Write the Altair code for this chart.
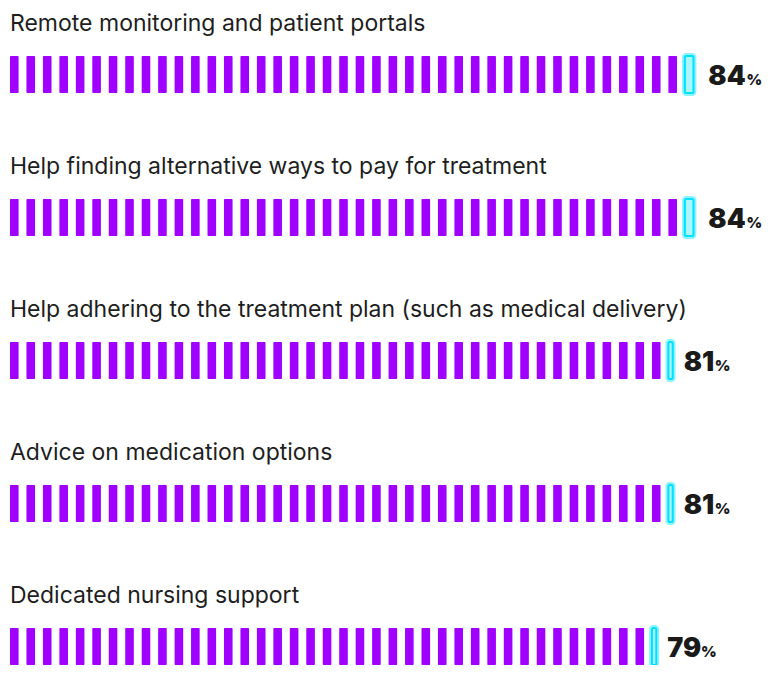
import math
import altair as alt
import pandas as pd

# ---- data ----
categories = [
    "Remote monitoring and patient portals",
    "Help finding alternative ways to pay for treatment",
    "Help adhering to the treatment plan (such as medical delivery)",
    "Advice on medication options",
    "Dedicated nursing support",
]
values = [84, 84, 81, 81, 79]
rows = list(range(len(categories)))

ROW_PX = 143.0            # pixels between rows
STEP = 2                  # one segment = 2 percentage points
W = 1.045                 # drawn width of one segment, in percentage units
H = 18.5 / ROW_PX         # half bar height, in row units

seg_records = []
for r, v in zip(rows, values):
    segs = v / STEP
    last = math.ceil(segs) - 1
    for i in range(last):
        seg_records.append({"row": r, "x": i * STEP, "x2": i * STEP + W,
                            "y": r - H, "y2": r + H})
    frac = segs - last
    cyan_last = {"row": r, "x": last * STEP, "x2": last * STEP + W * frac,
                 "y": r - H, "y2": r + H}
    seg_records.append(dict(cyan_last, kind="cyan"))
segs_df = pd.DataFrame(seg_records)
purple_df = segs_df[segs_df["kind"].isna()]
cyan_df = segs_df[segs_df["kind"] == "cyan"].copy()
cyan_df["gx"] = cyan_df["x"] - 0.35
cyan_df["gx2"] = cyan_df["x2"] + 0.35
cyan_df["gy"] = cyan_df["y"] - 3 / ROW_PX
cyan_df["gy2"] = cyan_df["y2"] + 3 / ROW_PX

PX = 8.23                 # pixels per percentage point
NUM_SIZE = 27
PCT_SIZE = 15
NUM_GAP = 7               # px between bar end and number
# approximate advance widths (em) of the heavy digits, used to place the "%"
DIGIT_EM = {"0": 0.68, "1": 0.44, "2": 0.64, "3": 0.66, "4": 0.70,
            "5": 0.66, "6": 0.68, "7": 0.58, "8": 0.68, "9": 0.64}

labels_df = pd.DataFrame({
    "row": rows,
    "label": categories,
    "value": values,
    "num": [str(v) for v in values],
})
labels_df["ly"] = labels_df["row"] - 43.5 / ROW_PX
labels_df["ny"] = labels_df["row"] + 10.5 / ROW_PX
labels_df["x0"] = 0
labels_df["px"] = [
    v + (NUM_GAP + sum(DIGIT_EM[c] for c in str(v)) * NUM_SIZE + 1) / PX
    for v in values
]

CW, CH = 756, 657
xs = alt.Scale(domain=[-2 / PX, (CW - 2) / PX], nice=False, zero=False)
y0 = -66.5 / ROW_PX
ys = alt.Scale(domain=[y0, y0 + CH / ROW_PX], nice=False, zero=False, reverse=True)

base_x = dict(axis=None, scale=xs)
base_y = dict(axis=None, scale=ys)

purple = alt.Chart(purple_df).mark_rect(color="#a000ff", cornerRadius=1).encode(
    x=alt.X("x:Q", **base_x), x2="x2:Q",
    y=alt.Y("y:Q", **base_y), y2="y2:Q",
)

glow = alt.Chart(cyan_df).mark_rect(color="#00e5ff", opacity=0.45, cornerRadius=4).encode(
    x=alt.X("gx:Q", **base_x), x2="gx2:Q",
    y=alt.Y("gy:Q", **base_y), y2="gy2:Q",
)

cyan = alt.Chart(cyan_df).mark_rect(
    fill="#aef6ff", stroke="#00e1ff", strokeWidth=2, cornerRadius=1.5
).encode(
    x=alt.X("x:Q", **base_x), x2="x2:Q",
    y=alt.Y("y:Q", **base_y), y2="y2:Q",
)

label_text = alt.Chart(labels_df).mark_text(
    align="left", baseline="alphabetic", font="Inter", fontSize=23,
    color="#1e1e1e",
).encode(
    x=alt.X("x0:Q", **base_x), y=alt.Y("ly:Q", **base_y), text="label:N",
)

num_text = alt.Chart(labels_df).mark_text(
    align="left", baseline="alphabetic", font="Inter", fontSize=NUM_SIZE,
    fontWeight=900, color="#1a1a1a", dx=NUM_GAP,
).encode(
    x=alt.X("value:Q", **base_x), y=alt.Y("ny:Q", **base_y), text="num:N",
)

pct_text = alt.Chart(labels_df).mark_text(
    align="left", baseline="alphabetic", font="Inter", fontSize=PCT_SIZE,
    fontWeight=900, color="#1a1a1a",
).encode(
    x=alt.X("px:Q", **base_x), y=alt.Y("ny:Q", **base_y), text=alt.value("%"),
)

chart = alt.layer(purple, glow, cyan, label_text, num_text, pct_text).properties(
    width=CW, height=CH, padding=0, autosize=alt.AutoSizeParams(type="none"),
    background="white",
).configure_view(stroke=None)

chart.save("out.html", embed_options={"renderer": "svg", "actions": False})
